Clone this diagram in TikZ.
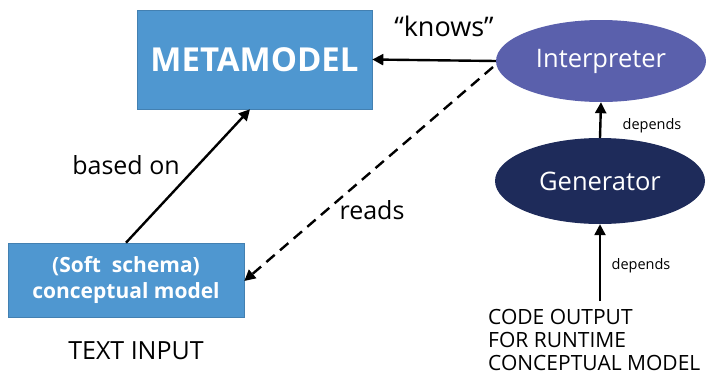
\documentclass[tikz,border=0pt]{standalone}
\usepackage{fontspec}
\setmainfont{Open Sans}
\usetikzlibrary{arrows.meta,shapes.geometric}
\definecolor{boxblue}{HTML}{4F97D0}
\definecolor{interp}{HTML}{5A60AC}
\definecolor{gen}{HTML}{1E2B5A}
\tikzset{
  box/.style={draw=boxblue!85!black, line width=0.6pt, fill=boxblue, text=white, font=\bfseries},
  oval/.style={ellipse, minimum width=210pt, text=white},
  conn/.style={line width=2.4pt, -{Triangle[length=11pt,width=11pt]}},
  lbl/.style={text=black, inner sep=0pt},
}
\begin{document}
\begin{tikzpicture}[x=1pt,y=-1pt]
\useasboundingbox (0,0) rectangle (708,375);
% boxes
\node[box, minimum width=235pt, minimum height=99pt, font=\fontsize{33}{36}\selectfont\bfseries] (meta) at (254.5,59.5) {METAMODEL};
\node[box, minimum width=236pt, minimum height=74pt, align=center, font=\fontsize{21}{26}\selectfont\bfseries] (soft) at (126,280) {(Soft\ \ schema)\\conceptual model};
% ellipses
\node[oval, fill=interp, minimum height=82pt, font=\fontsize{25.5}{28}\selectfont] (int) at (601,61) {Interpreter};
\node[oval, fill=gen, minimum height=86pt, font=\fontsize{25.5}{28}\selectfont] (gen) at (600,181) {Generator};
% plain texts
\node[lbl, font=\fontsize{25}{28}\selectfont] (tin) at (136,351) {TEXT INPUT};
\node[lbl, anchor=north west, align=left, font=\fontsize{21}{23}\selectfont] (code) at (488,309) {CODE OUTPUT\\FOR RUNTIME\\CONCEPTUAL MODEL};
\coordinate (codetop) at (600,301);
% connectors
\draw[conn] (int.west) -- (meta.east);
\node[lbl, font=\fontsize{27}{30}\selectfont] (knows) at (444,26) {“knows”};
\draw[conn] (soft.north) -- (250,109.3);
\node[lbl, font=\fontsize{25}{28}\selectfont] (based) at (126,165) {based on};
\draw[conn, dashed, dash pattern=on 11pt off 7pt] (493,67) -- (soft.east |- 0,281);
\node[lbl, font=\fontsize{25}{28}\selectfont] (reads) at (372,210) {reads};
\draw[conn] (gen.north) -- (int.south);
\node[lbl, font=\fontsize{14.5}{16}\selectfont] (dep1) at (652,126) {depends};
\draw[conn] (codetop) -- (gen.south);
\node[lbl, font=\fontsize{14.5}{16}\selectfont] (dep2) at (641,266) {depends};
\end{tikzpicture}
\end{document}
